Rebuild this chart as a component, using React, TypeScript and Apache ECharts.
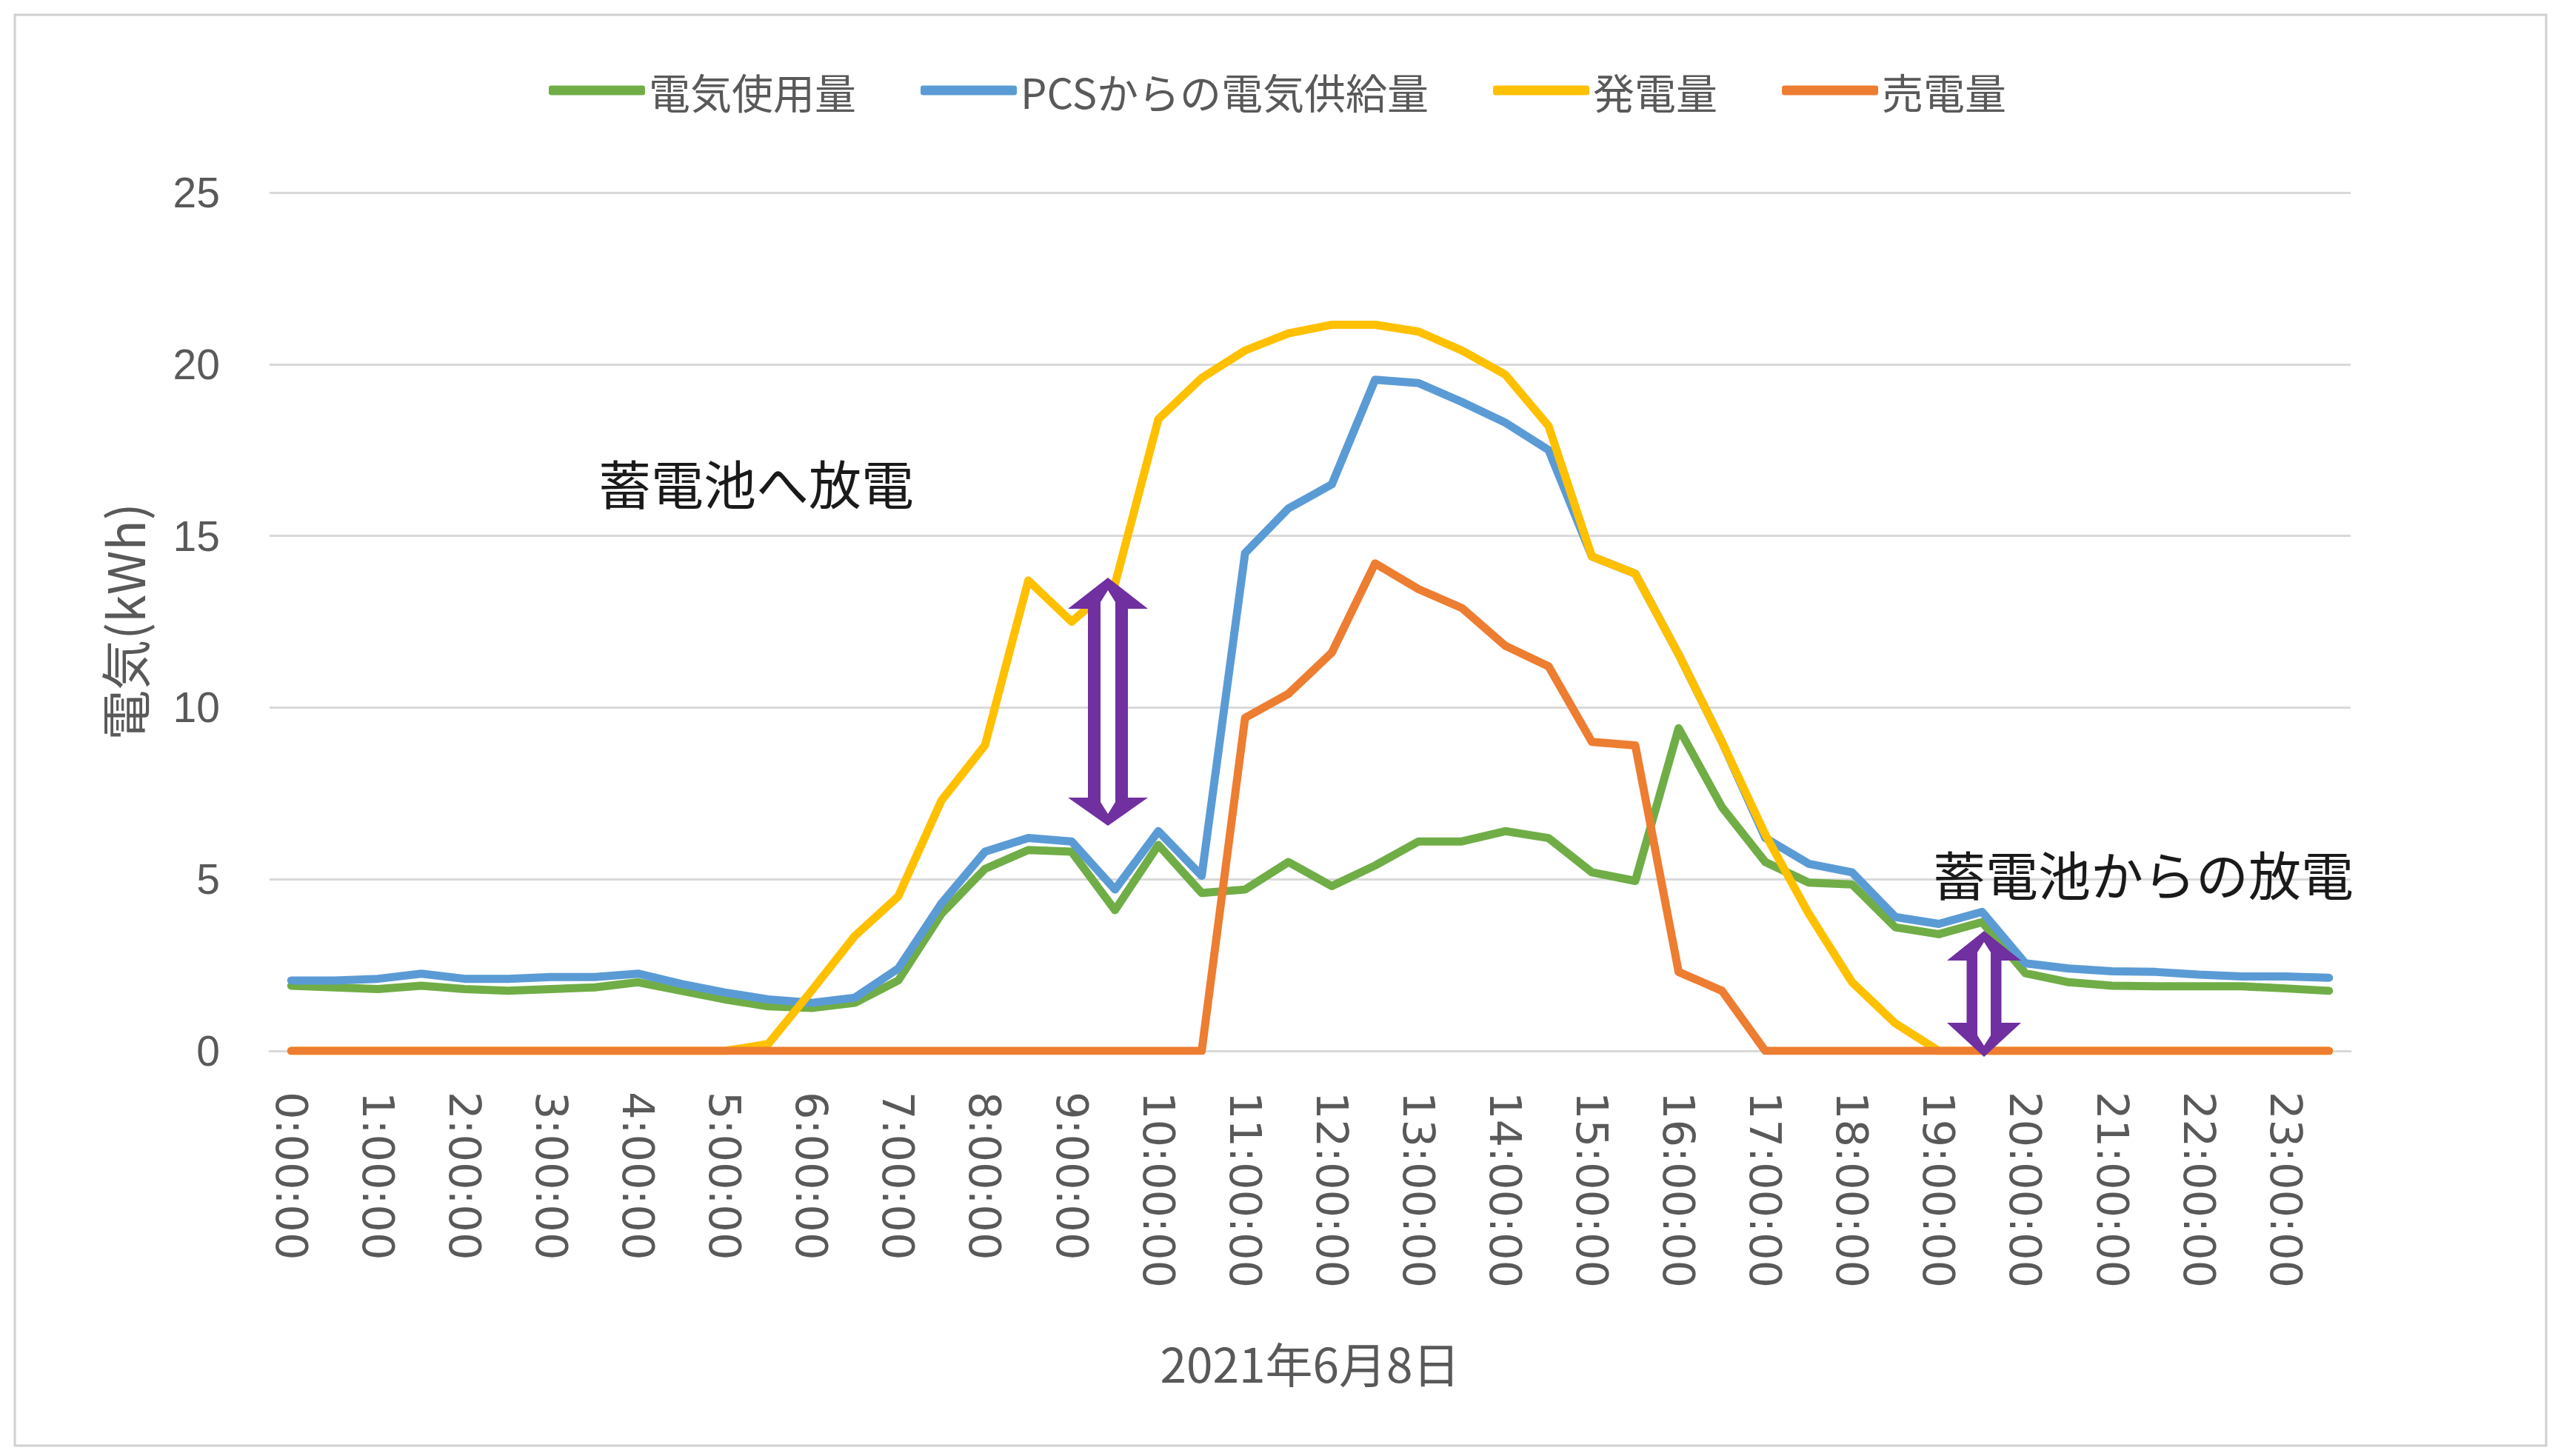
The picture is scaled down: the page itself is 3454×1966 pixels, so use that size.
import React, { useEffect, useRef } from "react";
import * as echarts from "echarts";

const categories = [
  "0:00:00", "0:30:00", "1:00:00", "1:30:00", "2:00:00", "2:30:00", "3:00:00", "3:30:00",
  "4:00:00", "4:30:00", "5:00:00", "5:30:00", "6:00:00", "6:30:00", "7:00:00", "7:30:00",
  "8:00:00", "8:30:00", "9:00:00", "9:30:00", "10:00:00", "10:30:00", "11:00:00", "11:30:00",
  "12:00:00", "12:30:00", "13:00:00", "13:30:00", "14:00:00", "14:30:00", "15:00:00", "15:30:00",
  "16:00:00", "16:30:00", "17:00:00", "17:30:00", "18:00:00", "18:30:00", "19:00:00", "19:30:00",
  "20:00:00", "20:30:00", "21:00:00", "21:30:00", "22:00:00", "22:30:00", "23:00:00", "23:30:00",
];

const seriesNames = ["電気使用量", "PCSからの電気供給量", "発電量", "売電量"];

const usage = [
  1.9, 1.85, 1.8, 1.9, 1.8, 1.75, 1.8, 1.85, 2.0, 1.75, 1.5, 1.3, 1.25, 1.4, 2.05, 4.0,
  5.3, 5.85, 5.8, 4.1, 6.0, 4.6, 4.7, 5.5, 4.8, 5.4, 6.1, 6.1, 6.4, 6.2, 5.2, 4.95,
  9.4, 7.1, 5.5, 4.9, 4.85, 3.6, 3.4, 3.75, 2.26, 2.0, 1.9, 1.88, 1.88, 1.88, 1.82, 1.75,
];

const pcsSupply = [
  2.05, 2.05, 2.1, 2.25, 2.1, 2.1, 2.15, 2.15, 2.25, 1.95, 1.7, 1.5, 1.4, 1.55, 2.4, 4.3,
  5.8, 6.2, 6.1, 4.7, 6.4, 5.1, 14.5, 15.8, 16.5, 19.55, 19.45, 18.9, 18.3, 17.5, 14.4, 13.9,
  11.55, 9.0, 6.2, 5.45, 5.2, 3.9, 3.7, 4.05, 2.55, 2.4, 2.32, 2.3, 2.22, 2.17, 2.17, 2.13,
];

const generation = [
  0, 0, 0, 0, 0, 0, 0, 0, 0, 0, 0, 0.2, 1.75, 3.35, 4.5, 7.3,
  8.9, 13.7, 12.5, 13.6, 18.4, 19.6, 20.4, 20.9, 21.15, 21.15, 20.95, 20.4, 19.7, 18.2, 14.4, 13.9,
  11.55, 9.0, 6.3, 4.0, 2.0, 0.8, 0, 0, 0, 0, 0, 0, 0, 0, 0, 0,
];

const sold = [
  0, 0, 0, 0, 0, 0, 0, 0, 0, 0, 0, 0, 0, 0, 0, 0,
  0, 0, 0, 0, 0, 0, 9.7, 10.4, 11.6, 14.2, 13.45, 12.9, 11.8, 11.2, 9.0, 8.9,
  2.3, 1.75, 0, 0, 0, 0, 0, 0, 0, 0, 0, 0, 0, 0, 0, 0,
];

const seriesColors = ["#70AD47", "#5B9BD5", "#FFC000", "#ED7D31"];
const seriesData = [usage, pcsSupply, generation, sold];

const yAxisName = "電気(kWh)";
const xAxisName = "2021年6月8日";
const noteCharge = "蓄電池へ放電";
const noteDischarge = "蓄電池からの放電";

const JP = "'Noto Sans CJK JP', 'Noto Sans', sans-serif";
const PURPLE = "#7030A0";

// Outer solid double arrow outline
function arrowOuter(cx: number, ty: number, by: number, hw: number, sw: number, hhTop: number, hhBot: number) {
  return [
    [cx, ty],
    [cx + hw, ty + hhTop],
    [cx + sw, ty + hhTop],
    [cx + sw, by - hhBot],
    [cx + hw, by - hhBot],
    [cx, by],
    [cx - hw, by - hhBot],
    [cx - sw, by - hhBot],
    [cx - sw, ty + hhTop],
    [cx - hw, ty + hhTop],
  ];
}

// Inner white slit of the hollow shaft
function arrowInner(cx: number, ty: number, by: number, iw: number, taper: number) {
  return [
    [cx, ty],
    [cx + iw, ty + taper],
    [cx + iw, by - taper],
    [cx, by],
    [cx - iw, by - taper],
    [cx - iw, ty + taper],
  ];
}

export default function App() {
  const ref = useRef<HTMLDivElement>(null);

  useEffect(() => {
    document.body.style.margin = "0";
    if (!ref.current) return;
    const chart = echarts.init(ref.current, null, { renderer: "svg" });

    const option: any = {
      animation: false,
      backgroundColor: "#ffffff",
      textStyle: { fontFamily: JP },
      legend: {
        data: seriesNames,
        left: 741,
        top: 94,
        padding: 0,
        icon: "roundRect",
        itemWidth: 130,
        itemHeight: 13,
        itemGap: 87,
        textStyle: { fontSize: 56, color: "#595959", fontFamily: JP },
      },
      grid: { left: 364, right: 280, top: 260, bottom: 547, containLabel: false },
      xAxis: {
        type: "category",
        data: categories,
        boundaryGap: true,
        name: xAxisName,
        nameLocation: "middle",
        nameGap: 388,
        nameTextStyle: { fontSize: 64, color: "#595959", fontFamily: JP },
        axisTick: { show: false },
        axisLine: { show: true, lineStyle: { color: "#d9d9d9", width: 3 } },
        axisLabel: {
          interval: 1,
          rotate: -90,
          margin: 55,
          fontSize: 59,
          color: "#595959",
          fontFamily: "'DejaVu Sans', sans-serif",
        },
        splitLine: { show: false },
      },
      yAxis: {
        type: "value",
        min: 0,
        max: 25,
        interval: 5,
        name: yAxisName,
        nameLocation: "middle",
        nameGap: 164,
        nameTextStyle: { fontSize: 68, color: "#595959", fontFamily: JP },
        axisLine: { show: false },
        axisTick: { show: false },
        axisLabel: {
          margin: 67,
          fontSize: 57,
          color: "#595959",
          fontFamily: "'Liberation Sans', Arial, sans-serif",
        },
        splitLine: { show: true, lineStyle: { color: "#d9d9d9", width: 3 } },
      },
      series: seriesNames.map((name, i) => ({
        name,
        type: "line",
        data: seriesData[i],
        symbol: "none",
        smooth: false,
        color: seriesColors[i],
        lineStyle: { width: 11, color: seriesColors[i], cap: "round", join: "round" },
        z: 2 + i,
      })),
      graphic: [
        {
          type: "rect",
          z: -10,
          silent: true,
          shape: { x: 20, y: 20, width: 3418, height: 1932 },
          style: { fill: "none", stroke: "#d0d0d0", lineWidth: 3 },
        },
        {
          type: "text",
          z: 100,
          x: 808,
          y: 650,
          style: {
            text: noteCharge,
            fontSize: 71,
            fontFamily: JP,
            fill: "#1a1a1a",
            textAlign: "left",
            align: "left",
            textVerticalAlign: "middle",
            verticalAlign: "middle",
          },
        },
        {
          type: "text",
          z: 100,
          x: 2610,
          y: 1178,
          style: {
            text: noteDischarge,
            fontSize: 71,
            fontFamily: JP,
            fill: "#1a1a1a",
            textAlign: "left",
            align: "left",
            textVerticalAlign: "middle",
            verticalAlign: "middle",
          },
        },
        {
          type: "polygon",
          z: 100,
          shape: { points: arrowOuter(1496, 780, 1115, 54, 27, 42, 38) },
          style: { fill: PURPLE, stroke: "none" },
        },
        {
          type: "polygon",
          z: 101,
          shape: { points: arrowInner(1496, 797, 1099, 10, 16) },
          style: { fill: "#ffffff", stroke: "none" },
        },
        {
          type: "polygon",
          z: 100,
          shape: { points: arrowOuter(2679, 1257, 1427, 50, 23.5, 40, 46) },
          style: { fill: PURPLE, stroke: "none" },
        },
        {
          type: "polygon",
          z: 101,
          shape: { points: arrowInner(2679, 1272, 1412, 9, 14) },
          style: { fill: "#ffffff", stroke: "none" },
        },
      ],
    };

    chart.setOption(option);
    return () => chart.dispose();
  }, []);

  return (
    <div
      ref={ref}
      style={{ position: "fixed", left: 0, top: 0, width: 3454, height: 1966, background: "#fff" }}
    />
  );
}
